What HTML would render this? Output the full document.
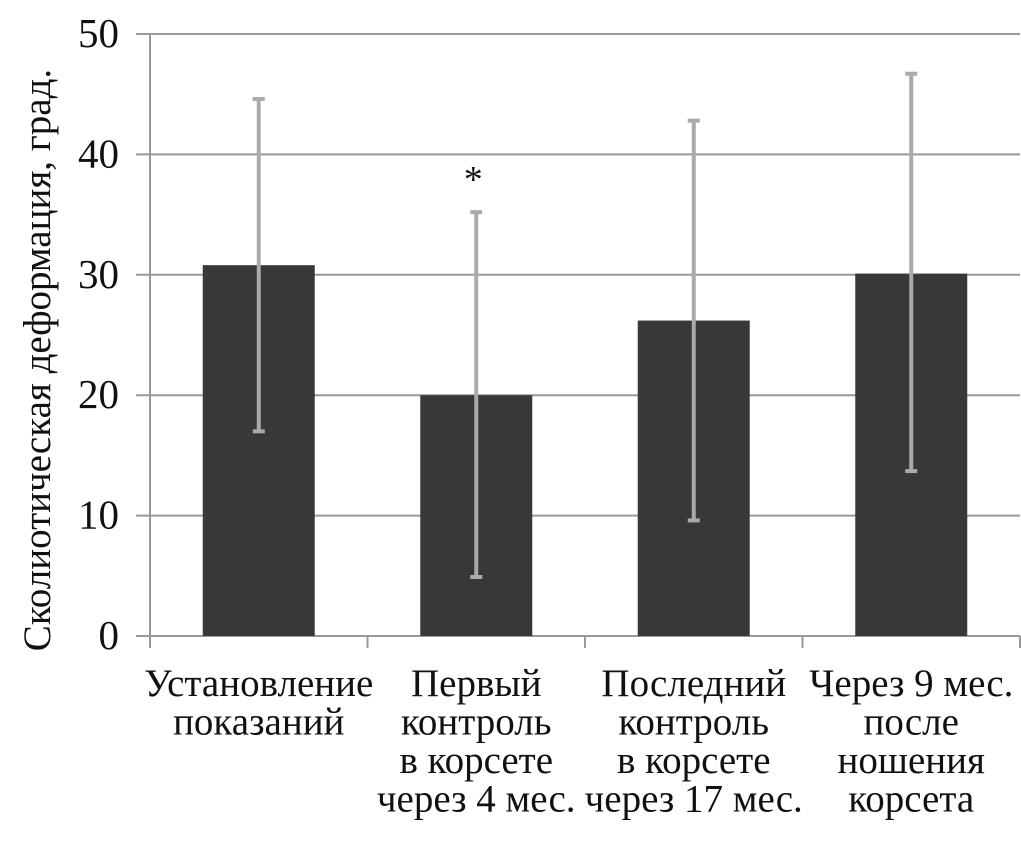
<!DOCTYPE html>
<html><head><meta charset="utf-8"><style>
html,body{margin:0;padding:0;background:#fff}
svg text{font-family:"Liberation Serif",serif;fill:#111}
</style></head><body>
<svg width="1021" height="837" viewBox="0 0 1021 837">
<g id="grid"></g><g id="bars"></g><g id="err"></g><g id="labels"></g>
<text transform="translate(50,360) rotate(-90)" text-anchor="middle" font-size="39">Сколиотическая деформация, град.</text>
</svg>
<script>
const categories=[["Установление","показаний"],["Первый","контроль","в корсете","через 4 мес."],["Последний","контроль","в корсете","через 17 мес."],["Через 9 мес.","после","ношения","корсета"]];
const values=[30.8,20.0,26.2,30.1];
const errLow=[17.0,4.9,9.6,13.7];
const errHigh=[44.6,35.2,42.8,46.7];
const yTicks=[0,10,20,30,40,50];
const marks=["","*","",""];
const NS="http://www.w3.org/2000/svg";
const x0=150,x1=1020,y0=636,y1=34;
const y=v=>y0-(v/50)*(y0-y1);
const cw=(x1-x0)/categories.length;
const xc=i=>x0+cw*(i+0.5);
function mk(t,a,p){const e=document.createElementNS(NS,t);for(const k in a)e.setAttribute(k,a[k]);p.appendChild(e);return e;}
const g=document.getElementById('grid'),b=document.getElementById('bars'),er=document.getElementById('err'),lb=document.getElementById('labels');
yTicks.forEach(t=>{
 const l=mk('line',{x1:136,x2:x1,y1:y(t),y2:y(t),stroke:'#999','stroke-width':2},g);
 
 
 const tx=mk('text',{x:119,y:y(t)+13,'text-anchor':'end','font-size':41},g);tx.textContent=t;
 
 
});
mk('line',{x1:x0,x2:x0,y1:y1,y2:y0,stroke:'#999','stroke-width':2},g);
for(let i=0;i<=categories.length;i++){mk('line',{x1:x0+cw*i,x2:x0+cw*i,y1:y0,y2:y0+12,stroke:'#999','stroke-width':2},g);}
categories.forEach((c,i)=>{
 const r=mk('rect',{x:xc(i)-56,y:y(values[i]),width:112,height:y0-y(values[i]),fill:'#383838'},b);
 
 
 const e=mk('g',{stroke:'#aaa','stroke-width':4},er);
 
 
 mk('line',{x1:xc(i),x2:xc(i),y1:y(errLow[i]),y2:y(errHigh[i])},e);
 mk('line',{x1:xc(i)-6,x2:xc(i)+6,y1:y(errLow[i]),y2:y(errLow[i])},e);
 mk('line',{x1:xc(i)-6,x2:xc(i)+6,y1:y(errHigh[i]),y2:y(errHigh[i])},e);
 if(marks[i]){const m=mk('text',{x:xc(i)-3,y:y(errHigh[i])-20,'text-anchor':'middle','font-size':38},lb);m.textContent=marks[i];
 
 }
 c.forEach((s,j)=>{const t=mk('text',{x:xc(i),y:696+j*38.5,'text-anchor':'middle','font-size':39},lb);t.textContent=s;
 
 });
});
</script>
</body></html>
